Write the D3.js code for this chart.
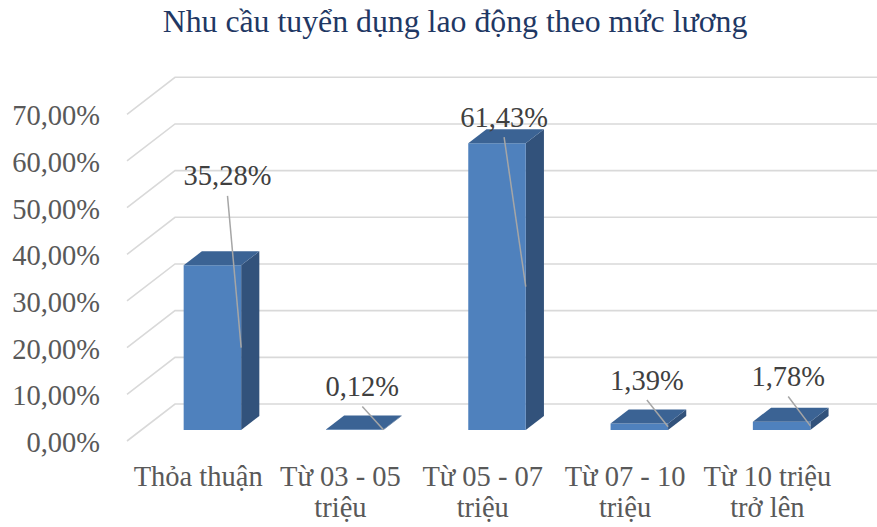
<!DOCTYPE html>
<html>
<head>
<meta charset="utf-8">
<script src="https://cdn.jsdelivr.net/npm/d3@7"></script>
<style>
  html, body { margin: 0; padding: 0; background: #ffffff; }
  svg { display: block; }
  svg text { font-family: "Liberation Serif", "Times New Roman", Tinos, "DejaVu Serif", serif; }
</style>
</head>
<body>
<div id="chart"></div>
<script>
// Salary bands and the share of job openings in each (percent)
const categories = ["Thỏa thuận", "Từ 03 - 05 triệu", "Từ 05 - 07 triệu", "Từ 07 - 10 triệu", "Từ 10 triệu trở lên"];
const shares = [35.28, 0.12, 61.43, 1.39, 1.78];
const tickValues = [0, 10, 20, 30, 40, 50, 60, 70];
const chartTitle = "Nhu cầu tuyển dụng lao động theo mức lương";

// Hand-placed data label offsets (pixels): [dx, lift above bar top]
const labelNudge = [[6, 66], [-1.5, 19.5], [-2, 2.6], [-1.5, 20], [-2.5, 21.7]];

const W = 877, H = 527;

// Oblique projection: depth 0 = front of floor, depth 1 = back wall
const DEPTH_DX = 48, DEPTH_DY = -37;
const BAR_D1 = 0.297, BAR_D2 = 0.676;

const x = d3.scaleBand().domain(categories).range([127, 838.5])
  .paddingInner(0.596).paddingOuter(0.298);
const xCenter = d3.scaleBand().domain(categories).range([127, 838.5]).padding(0);
const y = d3.scaleLinear().domain([0, 70]).range([441, 114.3]);

const proj = (px, v, d) => [px + d * DEPTH_DX, y(v) + d * DEPTH_DY];

const svg = d3.select("#chart").append("svg")
  .attr("width", W).attr("height", H)
  .attr("viewBox", `0 0 ${W} ${H}`);

// Title
svg.append("text")
  .attr("x", 455).attr("y", 32)
  .attr("text-anchor", "middle")
  .attr("font-size", 31.8)
  .attr("fill", "#1f3864")
  .text(chartTitle);

// Gridlines: side wall diagonal then across the back wall
const line = d3.line();
svg.append("g").selectAll("path").data(tickValues).join("path")
  .attr("d", t => line([proj(127, t, 0), proj(127, t, 1), [W + 20, y(t) + DEPTH_DY]]))
  .attr("fill", "none").attr("stroke", "#d9d9d9").attr("stroke-width", 1.6);

// Value axis labels
const fmt = v => v.toFixed(2).replace(".", ",") + "%";
svg.append("g").selectAll("text").data(tickValues).join("text")
  .attr("x", 100).attr("y", t => y(t) + 11)
  .attr("text-anchor", "end")
  .attr("font-size", 28.5)
  .attr("fill", "#595959")
  .text(fmt);

// 3D bars
const poly = pts => "M" + pts.map(p => p.join(",")).join("L") + "Z";
const bars = svg.append("g").selectAll("g").data(categories).join("g");
bars.append("path") // side
  .attr("d", (c, i) => {
    const xr = x(c) + x.bandwidth(), v = shares[i];
    return poly([proj(xr, 0, BAR_D1), proj(xr, 0, BAR_D2), proj(xr, v, BAR_D2), proj(xr, v, BAR_D1)]);
  })
  .attr("fill", "#32527b");
bars.append("path") // front
  .attr("d", (c, i) => {
    const xl = x(c), xr = xl + x.bandwidth(), v = shares[i];
    return poly([proj(xl, 0, BAR_D1), proj(xr, 0, BAR_D1), proj(xr, v, BAR_D1), proj(xl, v, BAR_D1)]);
  })
  .attr("fill", "#4f81bd");
bars.append("path") // top
  .attr("d", (c, i) => {
    const xl = x(c), xr = xl + x.bandwidth(), v = shares[i];
    return poly([proj(xl, v, BAR_D1), proj(xr, v, BAR_D1), proj(xr, v, BAR_D2), proj(xl, v, BAR_D2)]);
  })
  .attr("fill", "#3b6394");

// Data label anchor positions
const labelPos = categories.map((c, i) => {
  const v = shares[i];
  const cx = x(c) + x.bandwidth() / 2 + (BAR_D1 + BAR_D2) / 2 * DEPTH_DX + labelNudge[i][0];
  const base = y(v) + BAR_D2 * DEPTH_DY - labelNudge[i][1];
  return { cx, base };
});

// Leader lines from each label to its bar
svg.append("g").selectAll("path").data(categories).join("path")
  .attr("d", (c, i) => {
    const p = labelPos[i];
    return line([[p.cx, p.base + 10.5], proj(x(c) + x.bandwidth(), shares[i] / 2, BAR_D1)]);
  })
  .attr("fill", "none").attr("stroke", "#a6a6a6").attr("stroke-width", 1.5);

// Data labels
svg.append("g").selectAll("text").data(categories).join("text")
  .attr("x", (c, i) => labelPos[i].cx)
  .attr("y", (c, i) => labelPos[i].base)
  .attr("text-anchor", "middle")
  .attr("font-size", 28.5)
  .attr("fill", "#404040")
  .text((c, i) => fmt(shares[i]));

// Category labels, word-wrapped to the band width
const catG = svg.append("g");
categories.forEach(c => {
  const t = catG.append("text")
    .attr("text-anchor", "middle")
    .attr("font-size", 28.5)
    .attr("fill", "#595959");
  const cx = xCenter(c) + xCenter.bandwidth() / 2;
  const words = c.split(" ");
  const lines = [];
  let cur = [];
  const probe = t.append("tspan");
  words.forEach(w => {
    const trial = cur.concat([w]).join(" ");
    probe.text(trial);
    if (cur.length && probe.node().getComputedTextLength() > xCenter.step() - 4) {
      lines.push(cur.join(" "));
      cur = [w];
    } else {
      cur.push(w);
    }
  });
  if (cur.length) lines.push(cur.join(" "));
  probe.remove();
  lines.forEach((ln, k) => {
    t.append("tspan").attr("x", cx).attr("y", 486 + k * 30.5).text(ln);
  });
});
</script>
</body>
</html>
